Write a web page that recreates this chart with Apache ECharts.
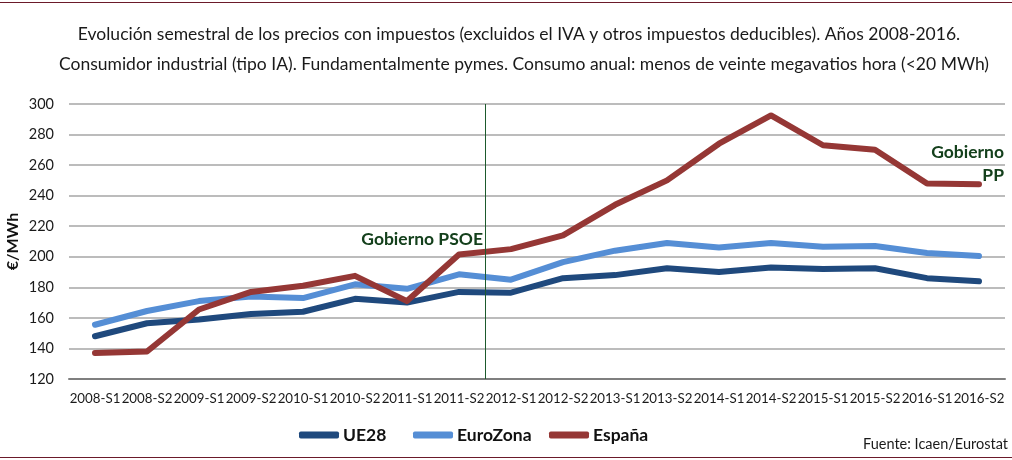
<!DOCTYPE html>
<html>
<head>
<meta charset="utf-8">
<style>
  html, body { margin: 0; padding: 0; background: #fff; }
  #chart { width: 1012px; height: 460px; }
</style>
<script src="https://cdn.jsdelivr.net/npm/echarts@6/dist/echarts.min.js"></script>
</head>
<body>
<div id="chart"></div>
<script>
const periods = [
  '2008-S1', '2008-S2', '2009-S1', '2009-S2', '2010-S1', '2010-S2',
  '2011-S1', '2011-S2', '2012-S1', '2012-S2', '2013-S1', '2013-S2',
  '2014-S1', '2014-S2', '2015-S1', '2015-S2', '2016-S1', '2016-S2'
]
const ue28 = [148, 156.5, 159, 162.5, 164, 172.5, 170, 177, 176.5, 186, 188, 192.5, 190, 193, 192, 192.5, 186, 184]
const euroZona = [155.5, 164.5, 171, 174, 173, 182, 179, 188.5, 185, 196.5, 204, 209, 206, 209, 206.5, 207, 202.5, 200.5]
const espana = [137, 138, 165.5, 177, 181, 187.5, 171, 201.5, 205, 214, 234, 250, 274, 292.5, 273, 270, 248, 247.5]
const governmentChange = 8 // semesters from the left edge of the axis

const FONT = 'Lato'
const GREEN = '#14401c'
const BORDER = '#6b1a2a'

const chart = echarts.init(document.getElementById('chart'))

const lineSeries = (name, data, color) => ({
  name,
  type: 'line',
  data,
  symbol: 'none',
  lineStyle: { color, width: 6, cap: 'round', join: 'round' },
  itemStyle: { color },
  z: 3
})

const legendAt = (name, left, top) => ({
  data: [name],
  left,
  top,
  padding: 0,
  icon: 'roundRect',
  itemWidth: 40,
  itemHeight: 7,
  itemGap: 4,
  textStyle: { fontFamily: FONT, fontSize: 17.5, fontWeight: 'bold', color: '#111', padding: [0, 0, 0, -1] }
})

chart.setOption({
  backgroundColor: '#fff',
  animation: false,
  title: [
    {
      text: 'Evolución semestral de los precios con impuestos (excluidos el IVA y otros impuestos deducibles). Años 2008-2016.',
      left: 514, top: 20, textAlign: 'center',
      textStyle: { fontFamily: FONT, fontSize: 17.5, fontWeight: 'normal', color: '#1a1a1a' }
    },
    {
      text: 'Consumidor industrial (tipo IA). Fundamentalmente pymes. Consumo anual: menos de veinte megavatios hora (<20 MWh)',
      left: 519, top: 50, textAlign: 'center',
      textStyle: { fontFamily: FONT, fontSize: 17.5, fontWeight: 'normal', color: '#1a1a1a' }
    }
  ],
  legend: [
    legendAt('UE28', 299, 426),
    legendAt('EuroZona', 413, 426),
    legendAt('España', 549, 426)
  ],
  grid: { left: 69, right: 7, top: 104, bottom: 81, outerBoundsMode: 'none' },
  xAxis: [
    {
      type: 'category',
      data: periods,
      boundaryGap: true,
      axisTick: { show: false },
      axisLine: { lineStyle: { color: '#7f7f7f', width: 2 } },
      axisLabel: { interval: 0, hideOverlap: false, margin: 13, fontFamily: FONT, fontSize: 13.3, color: '#1a1a1a' }
    },
    { type: 'value', min: 0, max: periods.length, show: false }
  ],
  yAxis: {
    type: 'value',
    min: 120,
    max: 300,
    interval: 20,
    name: '€/MWh',
    nameLocation: 'middle',
    nameGap: 48,
    nameMoveOverlap: false,
    nameTextStyle: { fontFamily: FONT, fontSize: 16, fontWeight: 'bold', color: '#111' },
    axisLine: { show: false },
    axisTick: { show: false },
    axisLabel: { margin: 15, fontFamily: FONT, fontSize: 14.5, color: '#1a1a1a' },
    splitLine: { lineStyle: { color: '#a6a6a6', width: 1.5 } }
  },
  series: [
    lineSeries('UE28', ue28, '#1f497d'),
    lineSeries('EuroZona', euroZona, '#558ed5'),
    lineSeries('España', espana, '#953735'),
    {
      type: 'line',
      xAxisIndex: 1,
      data: [],
      silent: true,
      markLine: {
        symbol: 'none',
        silent: true,
        label: { show: false },
        lineStyle: { color: '#1d5a2d', width: 1, type: 'solid' },
        data: [{ xAxis: governmentChange }]
      }
    }
  ],
  graphic: [
    { type: 'line', shape: { x1: 0, y1: 2.5, x2: 1012, y2: 2.5 }, style: { stroke: BORDER, lineWidth: 1 } },
    { type: 'line', shape: { x1: 0, y1: 457.5, x2: 1012, y2: 457.5 }, style: { stroke: BORDER, lineWidth: 1 } },
    {
      type: 'text', x: 483, y: 239,
      style: { text: 'Gobierno PSOE', fill: GREEN, font: 'bold 17.5px ' + FONT, textAlign: 'right', textVerticalAlign: 'middle' }
    },
    {
      type: 'text', x: 1004, y: 152,
      style: { text: 'Gobierno', fill: GREEN, font: 'bold 17.5px ' + FONT, textAlign: 'right', textVerticalAlign: 'middle' }
    },
    {
      type: 'text', x: 1004, y: 175,
      style: { text: 'PP', fill: GREEN, font: 'bold 17.5px ' + FONT, textAlign: 'right', textVerticalAlign: 'middle' }
    },
    {
      type: 'text', x: 1008, y: 444,
      style: { text: 'Fuente: Icaen/Eurostat', fill: '#1a1a1a', font: '14.5px ' + FONT, textAlign: 'right', textVerticalAlign: 'middle' }
    }
  ]
})
</script>
</body>
</html>
